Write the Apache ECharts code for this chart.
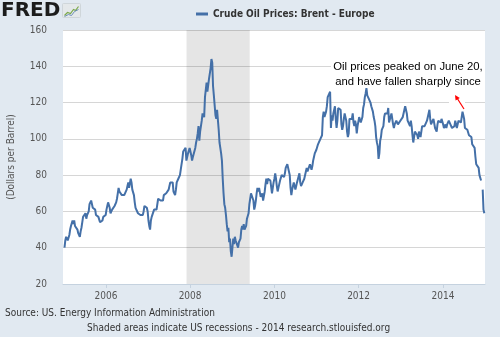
<!DOCTYPE html>
<html><head><meta charset="utf-8">
<script src="https://cdn.jsdelivr.net/npm/echarts@6/dist/echarts.min.js"></script>
<style>html,body{margin:0;padding:0;background:#e1e9f1;}#c{width:500px;height:337px;}</style>
</head><body><div id="c"></div>
<script>
// Weekly Brent crude price (USD/bbl), Fridays starting 2005-01-07
const brent2005 = [40,44,46,45, 44,44,47,50, 52,53,55,53, 55,52,51,52,50, 48,48,46,49, 51,54,57,57, 57,59,56,58,58, 60,64,64,66, 67,62,63,63,61, 58,57,58,57, 56,54,54,54, 55,57,57,58,58];
const brent2006 = [61,63,65,64, 62,59,59,61, 61,61,63,62,65, 67,70,73,71, 72,70,69,70, 70,69,69,70,72, 74,76,73,74, 78,76,72,72, 69,65,62,61,62, 59,59,59,58, 59,59,58,60, 63,62,63,62,60];
const brent2007 = [55,52,50,55, 57,57,58,61, 60,61,61,62,67, 67,68,66,67, 66,66,69,70, 69,70,71,71,72, 74,76,77,77, 76,71,70,69,72, 76,77,78,79, 80,83,82,89, 93,92,94,95,88, 89,92,92,95];
const brent2008 = [96,91,88,90, 89,91,95,98,100, 103,107,99,104, 104,110,114,115, 112,123,124,131,126, 126,133,133,139, 144,142,129,124, 123,113,111,116,115, 105,98,95,92, 88,78,70,64,62, 58,53,49,51, 43,45,38,35];
const brent2009 = [40,45,42,46,44, 45,43,40,43, 44,45,50,52, 50,53,50,50, 52,56,57,59,64, 67,70,70,70, 66,61,63,66,70, 73,71,73,72, 68,68,70,66, 67,71,75,78,75, 78,77,78,77, 77,70,73,76];
const brent2010 = [78,81,78,74,71, 73,74,77,76, 80,80,79,79, 81,84,84,86,87, 86,80,73,69, 72,74,76,77, 72,74,76,76,76, 81,76,74,74, 76,76,78,79, 82,84,82,81,83, 86,87,83,85, 88,90,92,93,94];
const brent2011 = [94,97,96,98, 100,101,102,112, 115,112,113,115, 118,123,122,124,126, 106,113,110,114, 115,118,111,106, 110,117,117,117,116, 108,105,107,111, 114,113,110,104,101, 103,111,112,112, 111,114,109,107, 110,108,103,107,107];
const brent2012 = [112,111,109,110, 112,117,119,123, 125,128,124,123,122, 121,120,118,118, 115,112,110,107, 101,98,96,89,92, 99,101,105,106, 107,112,114,115,114, 114,117,109,110, 109,114,113,108, 106,108,108,110,110, 108,107,109,110];
const brent2013 = [111,111,112,113, 116,118,117,114, 110,110,109,107,110, 107,102,98,101, 104,103,104,102,100, 104,105,101,102, 107,108,108,107, 108,106,110,111,114, 116,111,108,108, 109,111,110,106, 105,104,108,110,111, 111,109,111,112];
const brent2014 = [108,106,106,108,106, 108,109,110,109, 108,107,106,107, 105,107,110,109, 106,108,110,111,109, 109,112,115,113, 111,106,107,107, 105,105,102,102,103, 101,97,98,97, 95,90,86,86,86, 84,80,79,77, null,72,61,59];
const firstWeek = '2005-01-07';
const xTickYears = [2006, 2008, 2010, 2012, 2014];
const yTicks = [20, 40, 60, 80, 100, 120, 140, 160];
const recession = ['2007-12-01', '2009-06-01'];
const seriesName = 'Crude Oil Prices: Brent - Europe';

const values = [].concat(brent2005, brent2006, brent2007, brent2008, brent2009,
                         brent2010, brent2011, brent2012, brent2013, brent2014);
const WEEK = 7 * 86400000;
const t0 = Date.parse(firstWeek + 'T00:00:00Z');
const data = values.map((v, i) => [t0 + i * WEEK, v]);
const tickTimes = xTickYears.map(y => Date.UTC(y, 0, 1));

const FONT = '"DejaVu Sans Condensed", "DejaVu Sans", sans-serif';
const ANN = '11.3px "Liberation Sans", Arial, sans-serif';
const chart = echarts.init(document.getElementById('c'), null, {renderer: 'canvas'});
chart.setOption({
  animation: false,
  backgroundColor: '#e1e9f1',
  legend: {
    left: 191, top: 4, icon: 'rect', itemWidth: 12, itemHeight: 3, itemGap: 6,
    textStyle: {fontFamily: FONT, fontWeight: 'bold', fontSize: 10, color: '#333'},
    data: [seriesName]
  },
  grid: {left: 63, right: 15, top: 30, bottom: 53, show: true, backgroundColor: '#ffffff', borderWidth: 0,
         containLabel: false, outerBoundsMode: 'none'},
  xAxis: {
    type: 'value',
    min: Date.UTC(2004, 11, 25), max: Date.UTC(2015, 0, 1),
    axisLine: {show: true, lineStyle: {color: '#c5d2df', width: 1}},
    axisTick: {show: true, length: 4, lineStyle: {color: '#c5d2df'}, customValues: tickTimes},
    axisLabel: {color: '#555', fontFamily: FONT, fontSize: 10, margin: 7, customValues: tickTimes,
                formatter: v => String(new Date(v).getUTCFullYear())},
    splitLine: {show: false}
  },
  yAxis: {
    type: 'value', min: yTicks[0], max: yTicks[yTicks.length - 1], interval: 20,
    name: '(Dollars per Barrel)', nameLocation: 'middle', nameGap: 47, nameRotate: 90,
    nameTextStyle: {color: '#555', fontFamily: FONT, fontSize: 10},
    axisLine: {show: false}, axisTick: {show: false},
    axisLabel: {color: '#555', fontFamily: FONT, fontSize: 10, margin: 16},
    splitLine: {show: true, lineStyle: {color: '#d6d6d6', width: 1}}
  },
  series: [{
    name: seriesName, type: 'line', data: data, showSymbol: false, connectNulls: false,
    z: 5,
    color: '#4470a8',
    lineStyle: {color: '#4470a8', width: 2},
    markArea: {silent: true, itemStyle: {color: 'rgba(0,0,0,0.1)'},
               data: [[{xAxis: Date.parse(recession[0] + 'T00:00:00Z')}, {xAxis: Date.parse(recession[1] + 'T00:00:00Z')}]]}
  }],
  graphic: [
    {type: 'text', left: 1, top: 1, style: {text: 'FRED', font: 'bold 20px "DejaVu Sans", sans-serif', fill: '#1c1c1c'}},
    {type: 'group', left: 62, top: 3, children: [
      {type: 'rect', shape: {x: 0, y: 0, width: 18, height: 14, r: 1}, style: {fill: '#e4e8ea', stroke: '#cfd6da'}},
      {type: 'polyline', shape: {points: [[2,12],[5,9],[8,10],[11,6],[13,7],[16,3]]}, style: {stroke: '#7aa84a', lineWidth: 1.2, fill: null}},
      {type: 'polyline', shape: {points: [[2,13],[6,11],[9,12],[12,8],[16,6]]}, style: {stroke: '#6c8fb8', lineWidth: 1, fill: null}}
    ]},
    {type: 'rect', z: 3, shape: {x: 331, y: 58, width: 154, height: 31}, style: {fill: '#ffffff'}},
    {type: 'rect', z: 3, shape: {x: 449, y: 91, width: 16, height: 17}, style: {fill: '#ffffff'}},
    {type: 'text', z: 6, x: 408, y: 66.5, style: {text: 'Oil prices peaked on June 20,', font: ANN, fill: '#000', textAlign: 'center', textVerticalAlign: 'middle'}},
    {type: 'text', z: 6, x: 408, y: 81.5, style: {text: 'and have fallen sharply since', font: ANN, fill: '#000', textAlign: 'center', textVerticalAlign: 'middle'}},
    {type: 'line', z: 6, shape: {x1: 464, y1: 109, x2: 457, y2: 98}, style: {stroke: '#ff0000', lineWidth: 1.2}},
    {type: 'polygon', z: 6, shape: {points: [[455, 95], [459.8, 97.9], [455.6, 100.6]]}, style: {fill: '#ff0000'}},
    {type: 'text', left: 5, top: 308, style: {text: 'Source: US. Energy Information Administration', font: '10px ' + FONT, fill: '#333'}},
    {type: 'text', left: 87, top: 323, style: {text: 'Shaded areas indicate US recessions - 2014 research.stlouisfed.org', font: '10px ' + FONT, fill: '#333'}}
  ]
});
</script></body></html>
